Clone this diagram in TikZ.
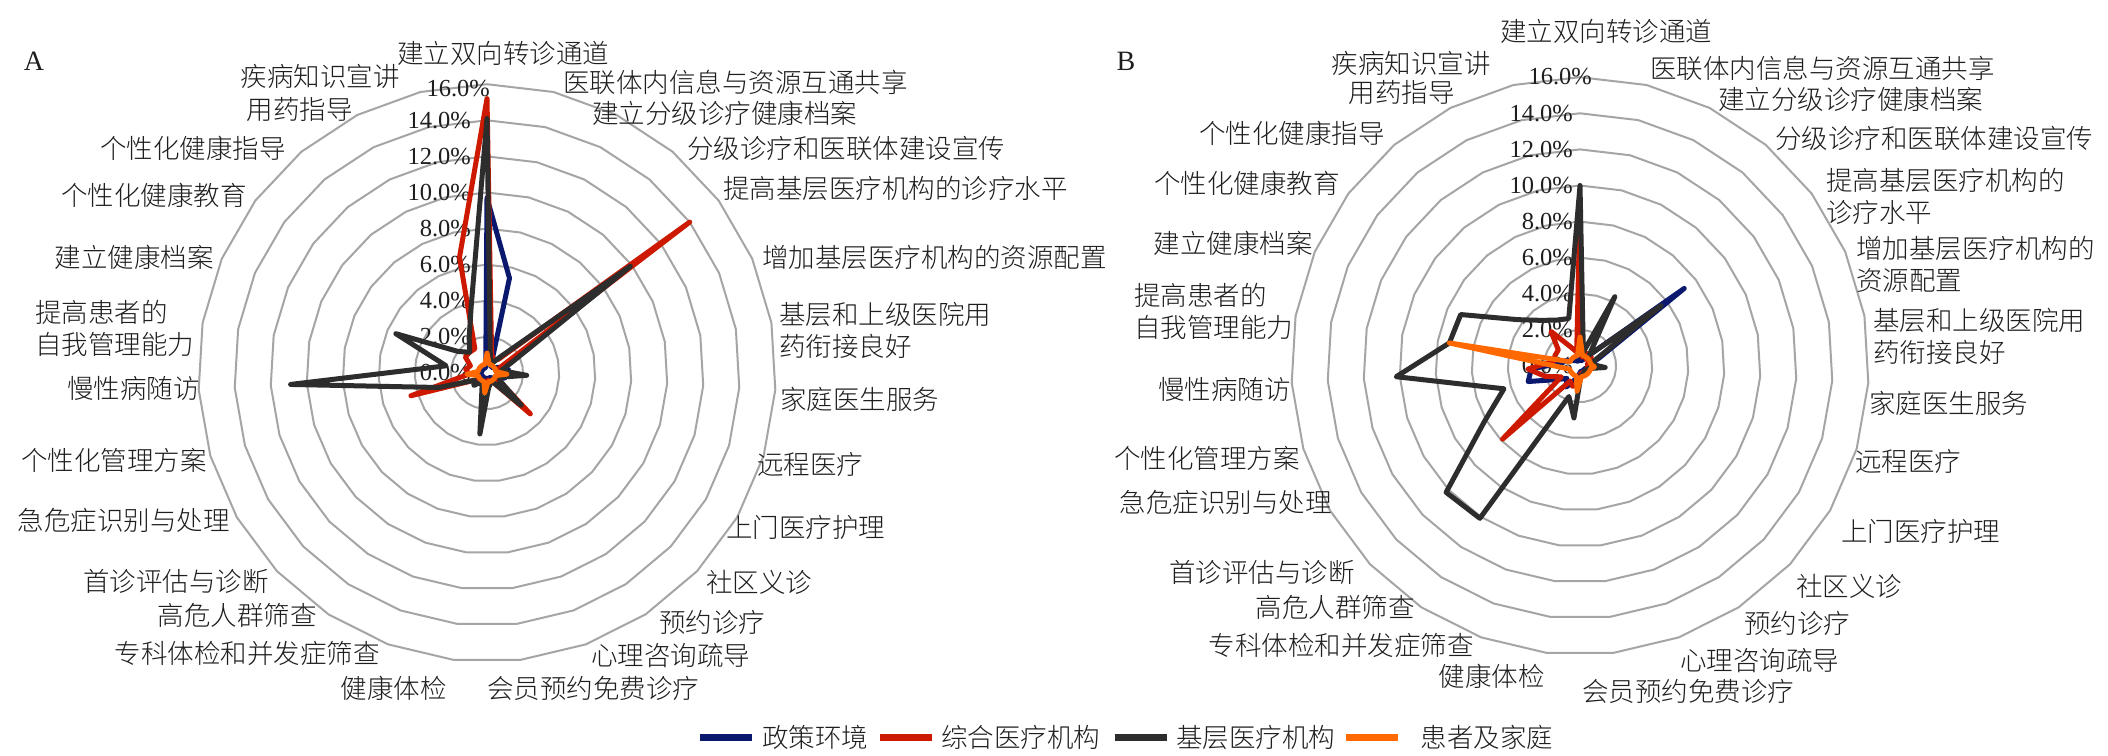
\documentclass[tikz,border=0pt]{standalone}
\usepackage{fontspec}
\setmainfont{Liberation Serif}
\IfFontExistsTF{Noto Sans CJK SC Light}
  {\newfontfamily\cjk{Noto Sans CJK SC Light}}
  {\newfontfamily\cjk{Noto Sans CJK SC}}
\usetikzlibrary{positioning}
\definecolor{ringgray}{RGB}{165,165,165}
\definecolor{textgray}{RGB}{30,30,30}
\definecolor{policyblue}{RGB}{10,25,110}
\definecolor{generalred}{RGB}{205,25,0}
\definecolor{primarygray}{RGB}{45,45,45}
\definecolor{patientorange}{RGB}{255,105,0}
\tikzstyle{ring}=[draw=ringgray,line width=2pt]
\tikzstyle{series}=[line width=5pt,line join=round]
\tikzstyle{policy}=[series,draw=policyblue]
\tikzstyle{general}=[series,draw=generalred]
\tikzstyle{primary}=[series,draw=primarygray]
\tikzstyle{patient}=[series,draw=patientorange]
\tikzstyle{lab}=[inner sep=0pt,text=textgray,font=\cjk\fontsize{26.5}{32}\selectfont]
\tikzstyle{pct}=[inner sep=0pt,text=textgray,font=\fontsize{24.5}{28}\selectfont]
\tikzstyle{legkey}=[rectangle,inner sep=0pt,minimum width=52pt,minimum height=7pt]
\def\rstep{18.05}
% one series: prefix, centre x, centre y, style, 27 values in percent
\newcommand{\radar}[5]{%
  \foreach \v [count=\k from 0] in {#5}
    \coordinate (#1\k) at ({#2+\rstep*\v*sin(\k*360/27)},{#3-\rstep*\v*cos(\k*360/27)});
  \draw[#4] (#10) \foreach \k in {1,...,26}{ -- (#1\k)} -- cycle;
}
% grid rings 2% ... 16%
\newcommand{\rings}[2]{%
  \foreach \r in {1,...,8}
    \draw[ring] ({#1},{#2-2*\rstep*\r}) \foreach \k in {1,...,26}{
      -- ({#1+2*\rstep*\r*sin(\k*360/27)},{#2-2*\rstep*\r*cos(\k*360/27)})} -- cycle;
}
\begin{document}
\begin{tikzpicture}[x=1pt,y=-1pt]
            \fill[white] (0,0) rectangle (2108,755);
            \useasboundingbox (0,0) rectangle (2108,755);

            % A PART

            \node[pct,font=\fontsize{28}{32}\selectfont] (A) at (34,61) {A};
            \rings{487}{373}
            \foreach \r/\t in {0/0.0,1/2.0,2/4.0,3/6.0,4/8.0,5/10.0,6/12.0,7/14.0}
              \node[pct,anchor=east] at (471,{373-2*\rstep*\r}) {\t\%};
            \node[pct,anchor=east] at (490,89) {16.0\%};

            \node[lab] (a0) at (503,53) {建立双向转诊通道};
            \node[lab,anchor=west] (a1) at (563,82) {医联体内信息与资源互通共享};
            \node[lab,anchor=west] (a2) at (592,113) {建立分级诊疗健康档案};
            \node[lab,anchor=west] (a3) at (687,148) {分级诊疗和医联体建设宣传};
            \node[lab,anchor=west] (a4) at (723,188) {提高基层医疗机构的诊疗水平};
            \node[lab,anchor=west] (a5) at (762,257) {增加基层医疗机构的资源配置};
            \node[lab,anchor=west,align=left] (a6) at (779,330) {基层和上级医院用\\药衔接良好};
            \node[lab,anchor=west] (a7) at (780,399) {家庭医生服务};
            \node[lab,anchor=west] (a8) at (757,464) {远程医疗};
            \node[lab,anchor=west] (a9) at (726,527) {上门医疗护理};
            \node[lab,anchor=west] (a10) at (706,582) {社区义诊};
            \node[lab,anchor=west] (a11) at (659,622) {预约诊疗};
            \node[lab,anchor=west] (a12) at (591,656) {心理咨询疏导};
            \node[lab,anchor=west] (a13) at (487,688) {会员预约免费诊疗};
            \node[lab,anchor=east] (a14) at (447,688) {健康体检};
            \node[lab,anchor=east] (a15) at (380,653) {专科体检和并发症筛查};
            \node[lab,anchor=east] (a16) at (317,615) {高危人群筛查};
            \node[lab,anchor=east] (a17) at (269,581) {首诊评估与诊断};
            \node[lab,anchor=east] (a18) at (230,520) {急危症识别与处理};
            \node[lab,anchor=east] (a19) at (207,460) {个性化管理方案};
            \node[lab,anchor=east] (a20) at (200,388) {慢性病随访};
            \node[lab,anchor=west,align=left] (a21) at (35,328) {提高患者的\\自我管理能力};
            \node[lab,anchor=east] (a22) at (214,257) {建立健康档案};
            \node[lab,anchor=east] (a23) at (247,195) {个性化健康教育};
            \node[lab,anchor=east] (a24) at (286,148) {个性化健康指导};
            \node[lab,anchor=east] (a25) at (353,109) {用药指导};
            \node[lab,anchor=east] (a26) at (400,76) {疾病知识宣讲};

            \radar{Ablue}{487}{373}{policy}{9.7,5.4,0.5,0.4,0.5,0.8,1.2,1.2,1.0,0.5,0.4,0.3,0.3,0.3,0.4,0.3,0.3,0.3,0.3,0.4,0.4,0.3,0.3,0.3,0.3,0.3,0.3}
            \radar{Ared}{487}{373}{general}{15.2,1.1,0.8,1.0,14.0,0.8,0.5,0.8,0.6,0.7,3.3,0.6,0.5,0.4,0.8,0.6,0.5,0.6,0.8,4.4,1.0,1.2,1.0,1.5,1.5,1.5,6.6}
            \radar{Ablack}{487}{373}{primary}{14.1,0.8,0.6,1.2,9.9,1.5,0.8,2.2,0.8,0.8,2.6,0.6,0.6,0.8,3.4,0.8,0.6,1.0,0.8,2.8,10.9,2.3,5.5,2.0,1.5,2.2,3.8}
            \radar{Aorange}{487}{373}{patient}{1.1,0.5,0.5,0.5,0.5,0.5,0.5,1.1,0.5,0.5,0.5,0.5,0.5,0.5,1.1,0.5,0.5,0.5,0.5,0.5,1.1,0.5,0.5,0.5,0.5,0.5,0.5}

            % B PART

            \node[pct,font=\fontsize{28}{32}\selectfont] (B) at (1126,61) {B};
            \rings{1580}{366}
            \foreach \r/\t in {0/0.0,1/2.0,2/4.0,3/6.0,4/8.0,5/10.0,6/12.0,7/14.0}
              \node[pct,anchor=east] at (1573,{366-2*\rstep*\r}) {\t\%};
            \node[pct,anchor=east] at (1592,77) {16.0\%};

            \node[lab] (b0) at (1606,31) {建立双向转诊通道};
            \node[lab,anchor=west] (b1) at (1650,68) {医联体内信息与资源互通共享};
            \node[lab,anchor=west] (b2) at (1718,99) {建立分级诊疗健康档案};
            \node[lab,anchor=west] (b3) at (1775,138) {分级诊疗和医联体建设宣传};
            \node[lab,anchor=west,align=left] (b4) at (1826,196) {提高基层医疗机构的\\诊疗水平};
            \node[lab,anchor=west,align=left] (b5) at (1856,264) {增加基层医疗机构的\\资源配置};
            \node[lab,anchor=west,align=left] (b6) at (1873,336) {基层和上级医院用\\药衔接良好};
            \node[lab,anchor=west] (b7) at (1869,403) {家庭医生服务};
            \node[lab,anchor=west] (b8) at (1855,461) {远程医疗};
            \node[lab,anchor=west] (b9) at (1841,531) {上门医疗护理};
            \node[lab,anchor=west] (b10) at (1796,586) {社区义诊};
            \node[lab,anchor=west] (b11) at (1744,623) {预约诊疗};
            \node[lab,anchor=west] (b12) at (1680,661) {心理咨询疏导};
            \node[lab,anchor=west] (b13) at (1582,691) {会员预约免费诊疗};
            \node[lab,anchor=east] (b14) at (1545,676) {健康体检};
            \node[lab,anchor=east] (b15) at (1474,645) {专科体检和并发症筛查};
            \node[lab,anchor=east] (b16) at (1415,607) {高危人群筛查};
            \node[lab,anchor=east] (b17) at (1355,572) {首诊评估与诊断};
            \node[lab,anchor=east] (b18) at (1332,502) {急危症识别与处理};
            \node[lab,anchor=east] (b19) at (1300,458) {个性化管理方案};
            \node[lab,anchor=east] (b20) at (1291,389) {慢性病随访};
            \node[lab,anchor=west,align=left] (b21) at (1134,311) {提高患者的\\自我管理能力};
            \node[lab,anchor=east] (b22) at (1313,243) {建立健康档案};
            \node[lab,anchor=east] (b23) at (1340,183) {个性化健康教育};
            \node[lab,anchor=east] (b24) at (1385,133) {个性化健康指导};
            \node[lab,anchor=east] (b25) at (1455,92) {用药指导};
            \node[lab,anchor=east] (b26) at (1491,63) {疾病知识宣讲};

            \radar{Bblue}{1580}{366}{policy}{0.4,0.3,0.4,0.8,7.2,1.2,0.6,0.5,0.4,0.3,0.3,0.3,0.3,0.3,0.5,0.8,1.4,1.0,1.5,3.0,2.7,1.0,0.8,0.5,0.4,0.3,0.3}
            \radar{Bred}{1580}{366}{general}{9.0,0.5,0.8,0.5,0.8,0.5,0.4,0.5,0.4,0.4,0.4,0.4,0.4,0.4,1.0,1.2,1.0,5.9,1.2,2.0,2.9,1.5,1.5,1.5,2.5,1.2,0.8}
            \radar{Bblack}{1580}{366}{primary}{10.0,0.8,4.3,0.8,5.6,1.0,0.6,1.4,0.5,0.4,0.4,0.4,0.5,0.5,2.9,1.8,10.1,10.2,6.1,4.4,10.2,7.35,7.2,4.3,3.3,2.85,2.7}
            \radar{Borange}{1580}{366}{patient}{1.6,0.6,0.6,0.6,0.6,0.6,0.6,0.8,0.6,0.6,0.6,0.6,0.6,0.6,1.4,0.6,0.6,0.6,0.6,0.6,1.1,7.35,0.6,0.6,0.6,0.6,0.6}

            % LEGEND

            \node[legkey,fill=policyblue] (k1) at (726,737) {};
            \node[lab,right=10pt of k1] (l1) {政策环境};
            \node[legkey,fill=generalred,right=11pt of l1] (k2) {};
            \node[lab,right=9pt of k2] (l2) {综合医疗机构};
            \node[legkey,fill=primarygray,right=14pt of l2] (k3) {};
            \node[lab,right=9pt of k3] (l3) {基层医疗机构};
            \node[legkey,fill=patientorange,right=11pt of l3] (k4) {};
            \node[lab,right=22pt of k4] (l4) {患者及家庭};

\end{tikzpicture}
\end{document}
